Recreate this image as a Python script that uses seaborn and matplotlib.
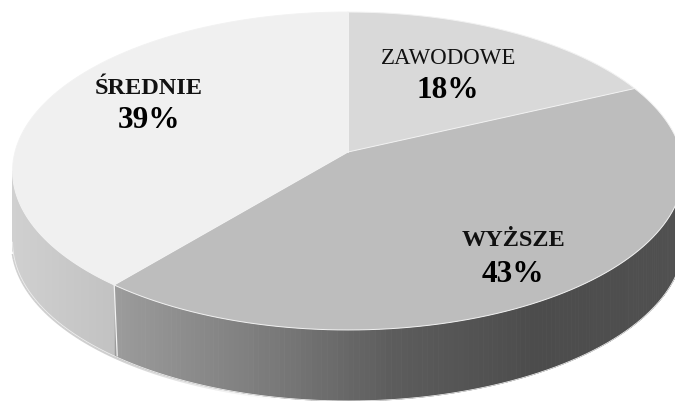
import numpy as np
import matplotlib
matplotlib.use("Agg")
import matplotlib.pyplot as plt
import seaborn as sns

categories = ["ZAWODOWE", "WYŻSZE", "ŚREDNIE"]
shares = [18, 43, 39]
top_colors = ["#d9d9d9", "#bdbdbd", "#f0f0f0"]
label_weights = ["normal", "bold", "bold"]
label_sizes = [16.5, 17.5, 17.5]
label_pos = [(449, 58), (514, 241), (149, 89)]
pct_pos = [(448, 90), (513, 274), (149, 121)]
wall_stops = [
    ["#d4d4d4", "#d4d4d4"],
    ["#9c9c9c", "#7e7e7e", "#5c5c5c", "#4c4c4c", "#505050"],
    ["#d0d0d0", "#c2c2c2"],
]
wall_spans = [(348, 675), (113, 675), (12, 113)]

APEX_X, APEX_Y = 348, 152
A, B, K = 333, 156.7, 0.1195
DEPTH = 71

sns.set_theme(style="white")
plt.rcParams["font.family"] = ["Liberation Serif", "DejaVu Serif"]


def project(theta, drop=0.0):
    u, v = np.sin(theta), np.cos(theta)
    d = 1 + K * v
    return APEX_X + A * u / d, APEX_Y - B * v / d + drop


fig = plt.figure(figsize=(6.75, 4.01), dpi=100, facecolor="white")
ax = fig.add_axes([0, 0, 1, 1])
ax.set_xlim(0, 675)
ax.set_ylim(401, 0)
ax.axis("off")

edges = 2 * np.pi * np.cumsum([0] + shares) / sum(shares)
wall_end = np.pi + np.arccos(K)

# soft shadow under the rim, lower left only, fading out towards the front
t = np.linspace(edges[2] - 0.5, wall_end - 0.07, 71)
for n, (a, b) in enumerate(zip(t[:-1], t[1:])):
    fade = min(1.0, (n + 1) / 30)
    seg = np.array([a, b])
    ax.plot(*project(seg, DEPTH + 0.5), color="#555555", lw=2.6, alpha=0.28 * fade,
            solid_capstyle="butt", zorder=1)

# side walls, shaded across the x direction; only the front part shows
for i in range(len(shares)):
    lo_t = max(edges[i], np.pi / 2)
    hi_t = min(edges[i + 1], wall_end)
    if hi_t <= lo_t:
        continue
    th = np.linspace(lo_t, hi_t, 161)
    pal = sns.blend_palette(wall_stops[i], 256)
    lo, hi = wall_spans[i]
    for a, b in zip(th[:-1], th[1:]):
        x0, y0 = project(a)
        x1, y1 = project(b)
        frac = np.clip(((x0 + x1) / 2 - lo) / (hi - lo), 0, 1)
        ax.fill([x0, x1, x1, x0], [y0, y1, y1 + DEPTH, y0 + DEPTH],
                color=pal[int(frac * 255)], lw=0.6, zorder=2)
    ax.plot(*project(th, DEPTH), color="#eeeeee", lw=0.6, zorder=3)

# light seam between side walls
sx, sy = project(edges[2])
ax.plot([sx, sx + 3], [sy, sy + DEPTH], color="#f2f2f2", lw=0.9, zorder=3)

# top faces
for i in range(len(shares)):
    th = np.linspace(edges[i], edges[i + 1], 200)
    px, py = project(th)
    ax.fill(np.r_[APEX_X, px], np.r_[APEX_Y, py], color=top_colors[i], lw=0, zorder=4)
    ax.plot(px, py, color="#f2f2f2", lw=0.7, zorder=5)
    ex, ey = project(edges[i])
    ax.plot([APEX_X, ex], [APEX_Y, ey], color="#f2f2f2", lw=0.7, zorder=5)

for name, share, w, fs, lp, pp in zip(categories, shares, label_weights, label_sizes, label_pos, pct_pos):
    ax.text(*lp, name, fontsize=fs, fontweight=w, ha="center", va="center",
            color="#111111", zorder=6)
    ax.text(*pp, f"{share}%", fontsize=22.5, fontweight="bold", ha="center", va="center",
            color="black", zorder=6)

fig.savefig("out.png", dpi=100, facecolor="white")
